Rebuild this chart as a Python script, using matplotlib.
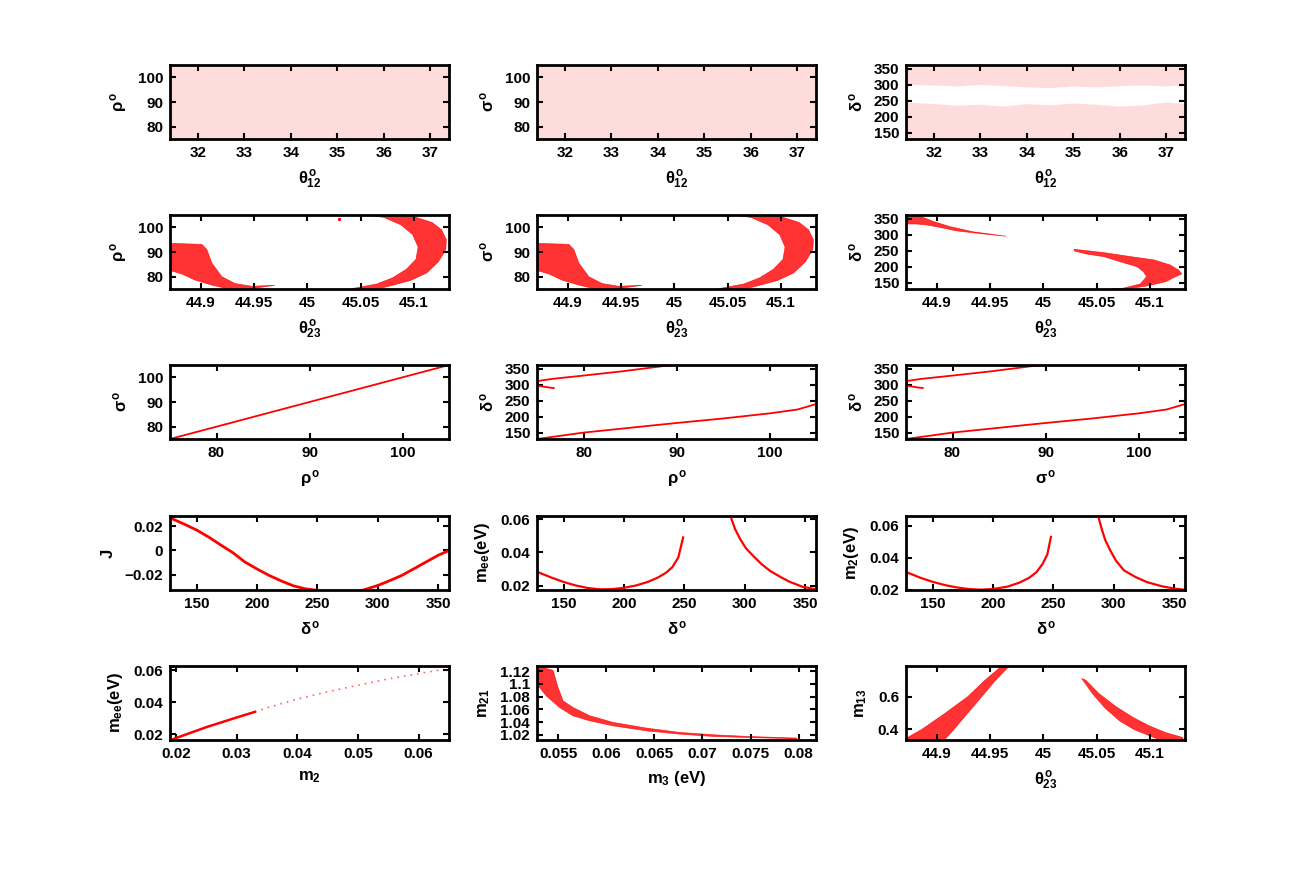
import numpy as np
import matplotlib.pyplot as plt
from matplotlib.ticker import FormatStrFormatter

plt.rcParams['font.family'] = ['Liberation Sans', 'DejaVu Sans']
plt.rcParams['font.weight'] = 'bold'
plt.rcParams['axes.labelweight'] = 'bold'
plt.rcParams['mathtext.fontset'] = 'custom'
plt.rcParams['mathtext.rm'] = 'Liberation Sans'
plt.rcParams['mathtext.it'] = 'Liberation Sans'
plt.rcParams['mathtext.bf'] = 'Liberation Sans:bold'

RED = '#ff0000'

# ---- data ----
# row 1: theta12 scanned over its whole range, rho/sigma/delta scattered
theta12_range = [31.4, 37.4]
rho_range = [75, 105]
t12_edge = [31.4, 32.0, 32.5, 33.0, 33.5, 34.0, 34.5, 35.0, 35.5, 36.0, 36.5, 37.0, 37.4]
delta_low_top = [245, 240, 235, 238, 232, 240, 236, 242, 238, 232, 236, 245, 240]
delta_up_bot = [300, 298, 295, 300, 296, 292, 290, 295, 292, 296, 298, 295, 300]
delta_min, delta_max = 131, 362

# row 2: theta23 vs rho (sigma looks the same)
lb_x = [44.8712, 44.9009, 44.9056, 44.9103, 44.9196, 44.9321, 44.9477, 44.9695,
        44.9445, 44.9259, 44.9103, 44.8947, 44.8822, 44.8712]
lb_rho = [93.5, 93.1, 91.0, 85.5, 80.0, 77.2, 76.1, 76.5,
          75.0, 75.0, 76.6, 78.6, 81.1, 82.5]
rb_x = [45.066, 45.080, 45.097, 45.112, 45.123, 45.130, 45.1305, 45.126, 45.117, 45.100, 45.080,
        45.050, 45.072, 45.088, 45.099, 45.104, 45.102, 45.093, 45.080, 45.065, 45.040]
rb_rho = [75.0, 76.5, 78.5, 81.5, 86.0, 91.0, 95.0, 99.0, 102.0, 104.3, 105.4,
          105.4, 104.0, 101.0, 97.0, 92.0, 87.0, 83.0, 79.5, 77.0, 75.0]

# row 2: theta23 vs delta
ld_x = [44.8712, 44.881, 44.897, 44.9124, 44.934, 44.965,
        44.940, 44.918, 44.903, 44.8907, 44.881, 44.8712]
ld_d = [362, 362, 341.5, 325.5, 309.6, 295.7,
        304.3, 312.8, 323.4, 330.9, 334, 334]
rd_x = [45.029, 45.057, 45.082, 45.104, 45.119, 45.127, 45.130, 45.124, 45.115, 45.097, 45.082, 45.063,
        45.072, 45.091, 45.097, 45.094, 45.088, 45.072, 45.057, 45.041, 45.029]
rd_d = [255, 244.4, 232, 221.6, 206, 190, 178, 169.5, 154, 140.5, 133, 131,
        131, 146.7, 169.5, 185, 200.7, 216.3, 232, 240, 250]

# row 3: rho vs sigma, rho vs delta
rho_line = [75, 105]
sigma_line = [75, 105]
rho_up = [76.8, 76.0, 75.2, 75.0, 75.2, 76.65, 80.0, 84.0, 89.5]
delta_up = [290, 293, 297, 302, 312.5, 318.7, 329, 341.7, 362]
rho_lo = [75, 78, 80, 85, 90, 95, 100, 103, 105]
delta_lo = [131, 143, 151, 166, 181, 195, 211, 223, 240]

# row 4: delta vs J, m_ee, m_2
delta_a = [128, 140, 150, 160, 170, 180, 190, 200, 210, 220, 230, 240, 250]
J_a = [0.0268, 0.0215, 0.0168, 0.011, 0.0045, -0.0018, -0.0095, -0.0152, -0.0205,
       -0.025, -0.029, -0.0315, -0.0328]
delta_b = [288, 300, 310, 320, 330, 340, 350, 358]
J_b = [-0.0325, -0.0288, -0.0248, -0.0205, -0.015, -0.0095, -0.004, -0.0005]

d_mee_a = [128, 140, 150, 160, 170, 180, 190, 200, 210, 220, 228, 235, 240, 245, 249]
mee_a = [0.0285, 0.0250, 0.0224, 0.0203, 0.0188, 0.0180, 0.0181, 0.0189, 0.0203, 0.0225,
         0.0250, 0.0280, 0.0312, 0.0370, 0.0490]
d_mee_b = [289, 292, 296, 301, 307, 314, 321, 330, 337.5, 348, 359]
mee_b = [0.0600, 0.0540, 0.0483, 0.0425, 0.0380, 0.0330, 0.0290, 0.0252, 0.0224, 0.0195, 0.0180]

d_m2_a = [128, 140, 150, 160, 170, 180, 190, 200, 212, 222, 230, 236, 241, 245, 248]
m2_a = [0.0311, 0.0275, 0.0250, 0.0230, 0.0215, 0.0205, 0.0201, 0.0205, 0.0220, 0.0245,
        0.0275, 0.0310, 0.0360, 0.0420, 0.0530]
d_m2_b = [287.6, 290, 293, 297, 302, 308.5, 318, 327.5, 340, 350, 359]
m2_b = [0.0646, 0.0580, 0.0510, 0.0447, 0.0380, 0.0321, 0.0280, 0.0248, 0.0222, 0.0208, 0.0200]

# row 5
m2_dense = [0.0191, 0.025, 0.030, 0.033]
mee_dense = [0.0165, 0.0245, 0.0305, 0.034]
m2_sparse = [0.033, 0.035, 0.040, 0.045, 0.050, 0.055, 0.060, 0.0635]
mee_sparse = [0.034, 0.0365, 0.042, 0.0465, 0.0505, 0.0545, 0.0578, 0.060]

m3_up = [0.0528, 0.05447, 0.05499, 0.05551, 0.05655, 0.05829, 0.06072, 0.06419, 0.06766, 0.07113, 0.0746, 0.0798]
m21_up = [1.128, 1.1212, 1.0941, 1.0733, 1.0629, 1.0499, 1.0395, 1.0306, 1.0238, 1.0202, 1.0176, 1.0150]
m3_lo = [0.0528, 0.05377, 0.05516, 0.05655, 0.05829, 0.06072, 0.06419, 0.06766, 0.07113, 0.0746, 0.0798]
m21_lo = [1.0994, 1.0811, 1.0629, 1.0499, 1.0421, 1.0342, 1.0264, 1.0212, 1.0176, 1.0160, 1.0139]

lm_x = [44.907, 44.916, 44.929, 44.942, 44.955, 44.968,
        44.961, 44.945, 44.929, 44.908, 44.886, 44.871, 44.871]
lm_m13 = [0.335, 0.40, 0.50, 0.60, 0.70, 0.788,
          0.788, 0.70, 0.60, 0.50, 0.40, 0.345, 0.335]
rm_x = [45.036, 45.046, 45.058, 45.072, 45.085, 45.100, 45.110,
        45.131, 45.131, 45.115, 45.100, 45.085, 45.068, 45.052, 45.040]
rm_m13 = [0.712, 0.62, 0.53, 0.45, 0.40, 0.36, 0.335,
          0.335, 0.35, 0.38, 0.42, 0.47, 0.54, 0.62, 0.70]

# ---- layout ----
W, H = 1308, 872
lefts = [170, 537, 906]
tops = [65, 215, 365, 516, 666]
aw, ah = 279, 74

fig = plt.figure(figsize=(W / 100, H / 100), dpi=100)
axs = [[fig.add_axes([l / W, 1 - (t + ah) / H, aw / W, ah / H]) for l in lefts] for t in tops]

t23_lim = (44.871, 45.133)
t23_ticks = [44.9, 44.95, 45, 45.05, 45.1]


def style(ax, xlim, ylim, xt, yt, xl, yl):
    ax.set_xlim(xlim)
    ax.set_ylim(ylim)
    ax.set_xticks(xt)
    ax.set_yticks(yt)
    ax.xaxis.set_major_formatter(FormatStrFormatter('%g'))
    ax.yaxis.set_major_formatter(FormatStrFormatter('%g'))
    ax.tick_params(direction='in', length=4, width=1.5, top=True, right=True,
                   labelsize=11, pad=5)
    for lab in ax.get_xticklabels() + ax.get_yticklabels():
        lab.set_fontweight('bold')
    for s in ax.spines.values():
        s.set_linewidth(2)
    ax.set_xlabel(xl, fontsize=12, labelpad=6)
    ax.set_ylabel(yl, fontsize=12, labelpad=6)


def speckle(ax, x, y):
    # sparse scatter region, drawn as a light red area
    ax.fill(x, y, facecolor='#ffdcdc', edgecolor='none')


def band(ax, x, y, a=0.8):
    ax.fill(x, y, facecolor=RED, alpha=a, edgecolor=RED, linewidth=0.5)


# row 1
rect_x = [theta12_range[0], theta12_range[1], theta12_range[1], theta12_range[0]]
rect_y = [rho_range[0], rho_range[0], rho_range[1], rho_range[1]]
speckle(axs[0][0], rect_x, rect_y)
speckle(axs[0][1], rect_x, rect_y)
speckle(axs[0][2], t12_edge + t12_edge[::-1], delta_low_top + [delta_min] * len(t12_edge))
speckle(axs[0][2], t12_edge + t12_edge[::-1], delta_up_bot + [delta_max] * len(t12_edge))
for j, yl in enumerate([r'$\rho^o$', r'$\sigma^o$', r'$\delta^o$']):
    if j < 2:
        style(axs[0][j], theta12_range, rho_range, range(32, 38), [80, 90, 100],
              r'$\theta^o_{12}$', yl)
    else:
        style(axs[0][j], theta12_range, (delta_min, delta_max), range(32, 38),
              [150, 200, 250, 300, 350], r'$\theta^o_{12}$', yl)

# row 2
for j in range(2):
    band(axs[1][j], lb_x, lb_rho)
    band(axs[1][j], rb_x, rb_rho)
    style(axs[1][j], t23_lim, rho_range, t23_ticks, [80, 90, 100],
          r'$\theta^o_{23}$', [r'$\rho^o$', r'$\sigma^o$'][j])
axs[1][0].plot([45.030], [103.2], 's', color=RED, ms=1.2)
band(axs[1][2], ld_x, ld_d)
band(axs[1][2], rd_x, rd_d)
style(axs[1][2], t23_lim, (delta_min, delta_max), t23_ticks, [150, 200, 250, 300, 350],
      r'$\theta^o_{23}$', r'$\delta^o$')

# row 3
axs[2][0].plot(rho_line, sigma_line, color=RED, lw=1.3)
style(axs[2][0], rho_range, rho_range, [80, 90, 100], [80, 90, 100], r'$\rho^o$', r'$\sigma^o$')
for j, xl in zip([1, 2], [r'$\rho^o$', r'$\sigma^o$']):
    axs[2][j].plot(rho_up, delta_up, color=RED, lw=1.3)
    axs[2][j].plot(rho_lo, delta_lo, color=RED, lw=1.3)
    style(axs[2][j], rho_range, (delta_min, delta_max), [80, 90, 100],
          [150, 200, 250, 300, 350], xl, r'$\delta^o$')

# row 4
d_lim = (128, 359)
axs[3][0].plot(delta_a, J_a, color=RED, lw=2)
axs[3][0].plot(delta_b, J_b, color=RED, lw=2)
style(axs[3][0], d_lim, (-0.0325, 0.0283), [150, 200, 250, 300, 350], [-0.02, 0, 0.02],
      r'$\delta^o$', 'J')
axs[3][0].set_yticklabels(['\u22120.02', '0', '0.02'], fontweight='bold')
axs[3][1].plot(d_mee_a, mee_a, color=RED, lw=1.6)
axs[3][1].plot(d_mee_b, mee_b, color=RED, lw=1.6)
style(axs[3][1], d_lim, (0.0176, 0.0618), [150, 200, 250, 300, 350], [0.02, 0.04, 0.06],
      r'$\delta^o$', r'$\mathbf{m_{ee}}$(eV)')
axs[3][2].plot(d_m2_a, m2_a, color=RED, lw=1.6)
axs[3][2].plot(d_m2_b, m2_b, color=RED, lw=1.6)
style(axs[3][2], d_lim, (0.0199, 0.066), [150, 200, 250, 300, 350], [0.02, 0.04, 0.06],
      r'$\delta^o$', r'$\mathbf{m_2}$(eV)')

# row 5
axs[4][0].plot(m2_dense, mee_dense, color=RED, lw=1.8)
axs[4][0].plot(m2_sparse, mee_sparse, color=RED, lw=1.2, alpha=0.6, ls=(0, (1, 3)))
style(axs[4][0], (0.019, 0.065), (0.0165, 0.0625), [0.02, 0.03, 0.04, 0.05, 0.06],
      [0.02, 0.04, 0.06], r'$\mathbf{m_2}$', r'$\mathbf{m_{ee}}$(eV)')
band(axs[4][1], m3_up + m3_lo[::-1], m21_up + m21_lo[::-1])
style(axs[4][1], (0.0528, 0.0818), (1.012, 1.128),
      [0.055, 0.06, 0.065, 0.07, 0.075, 0.08], [1.02, 1.04, 1.06, 1.08, 1.1, 1.12],
      r'$\mathbf{m_3}$ (eV)', r'$\mathbf{m_{21}}$')
band(axs[4][2], lm_x, lm_m13)
band(axs[4][2], rm_x, rm_m13)
style(axs[4][2], t23_lim, (0.335, 0.788), t23_ticks, [0.4, 0.6],
      r'$\theta^o_{23}$', r'$\mathbf{m_{13}}$')

fig.savefig('out.png', dpi=100)
